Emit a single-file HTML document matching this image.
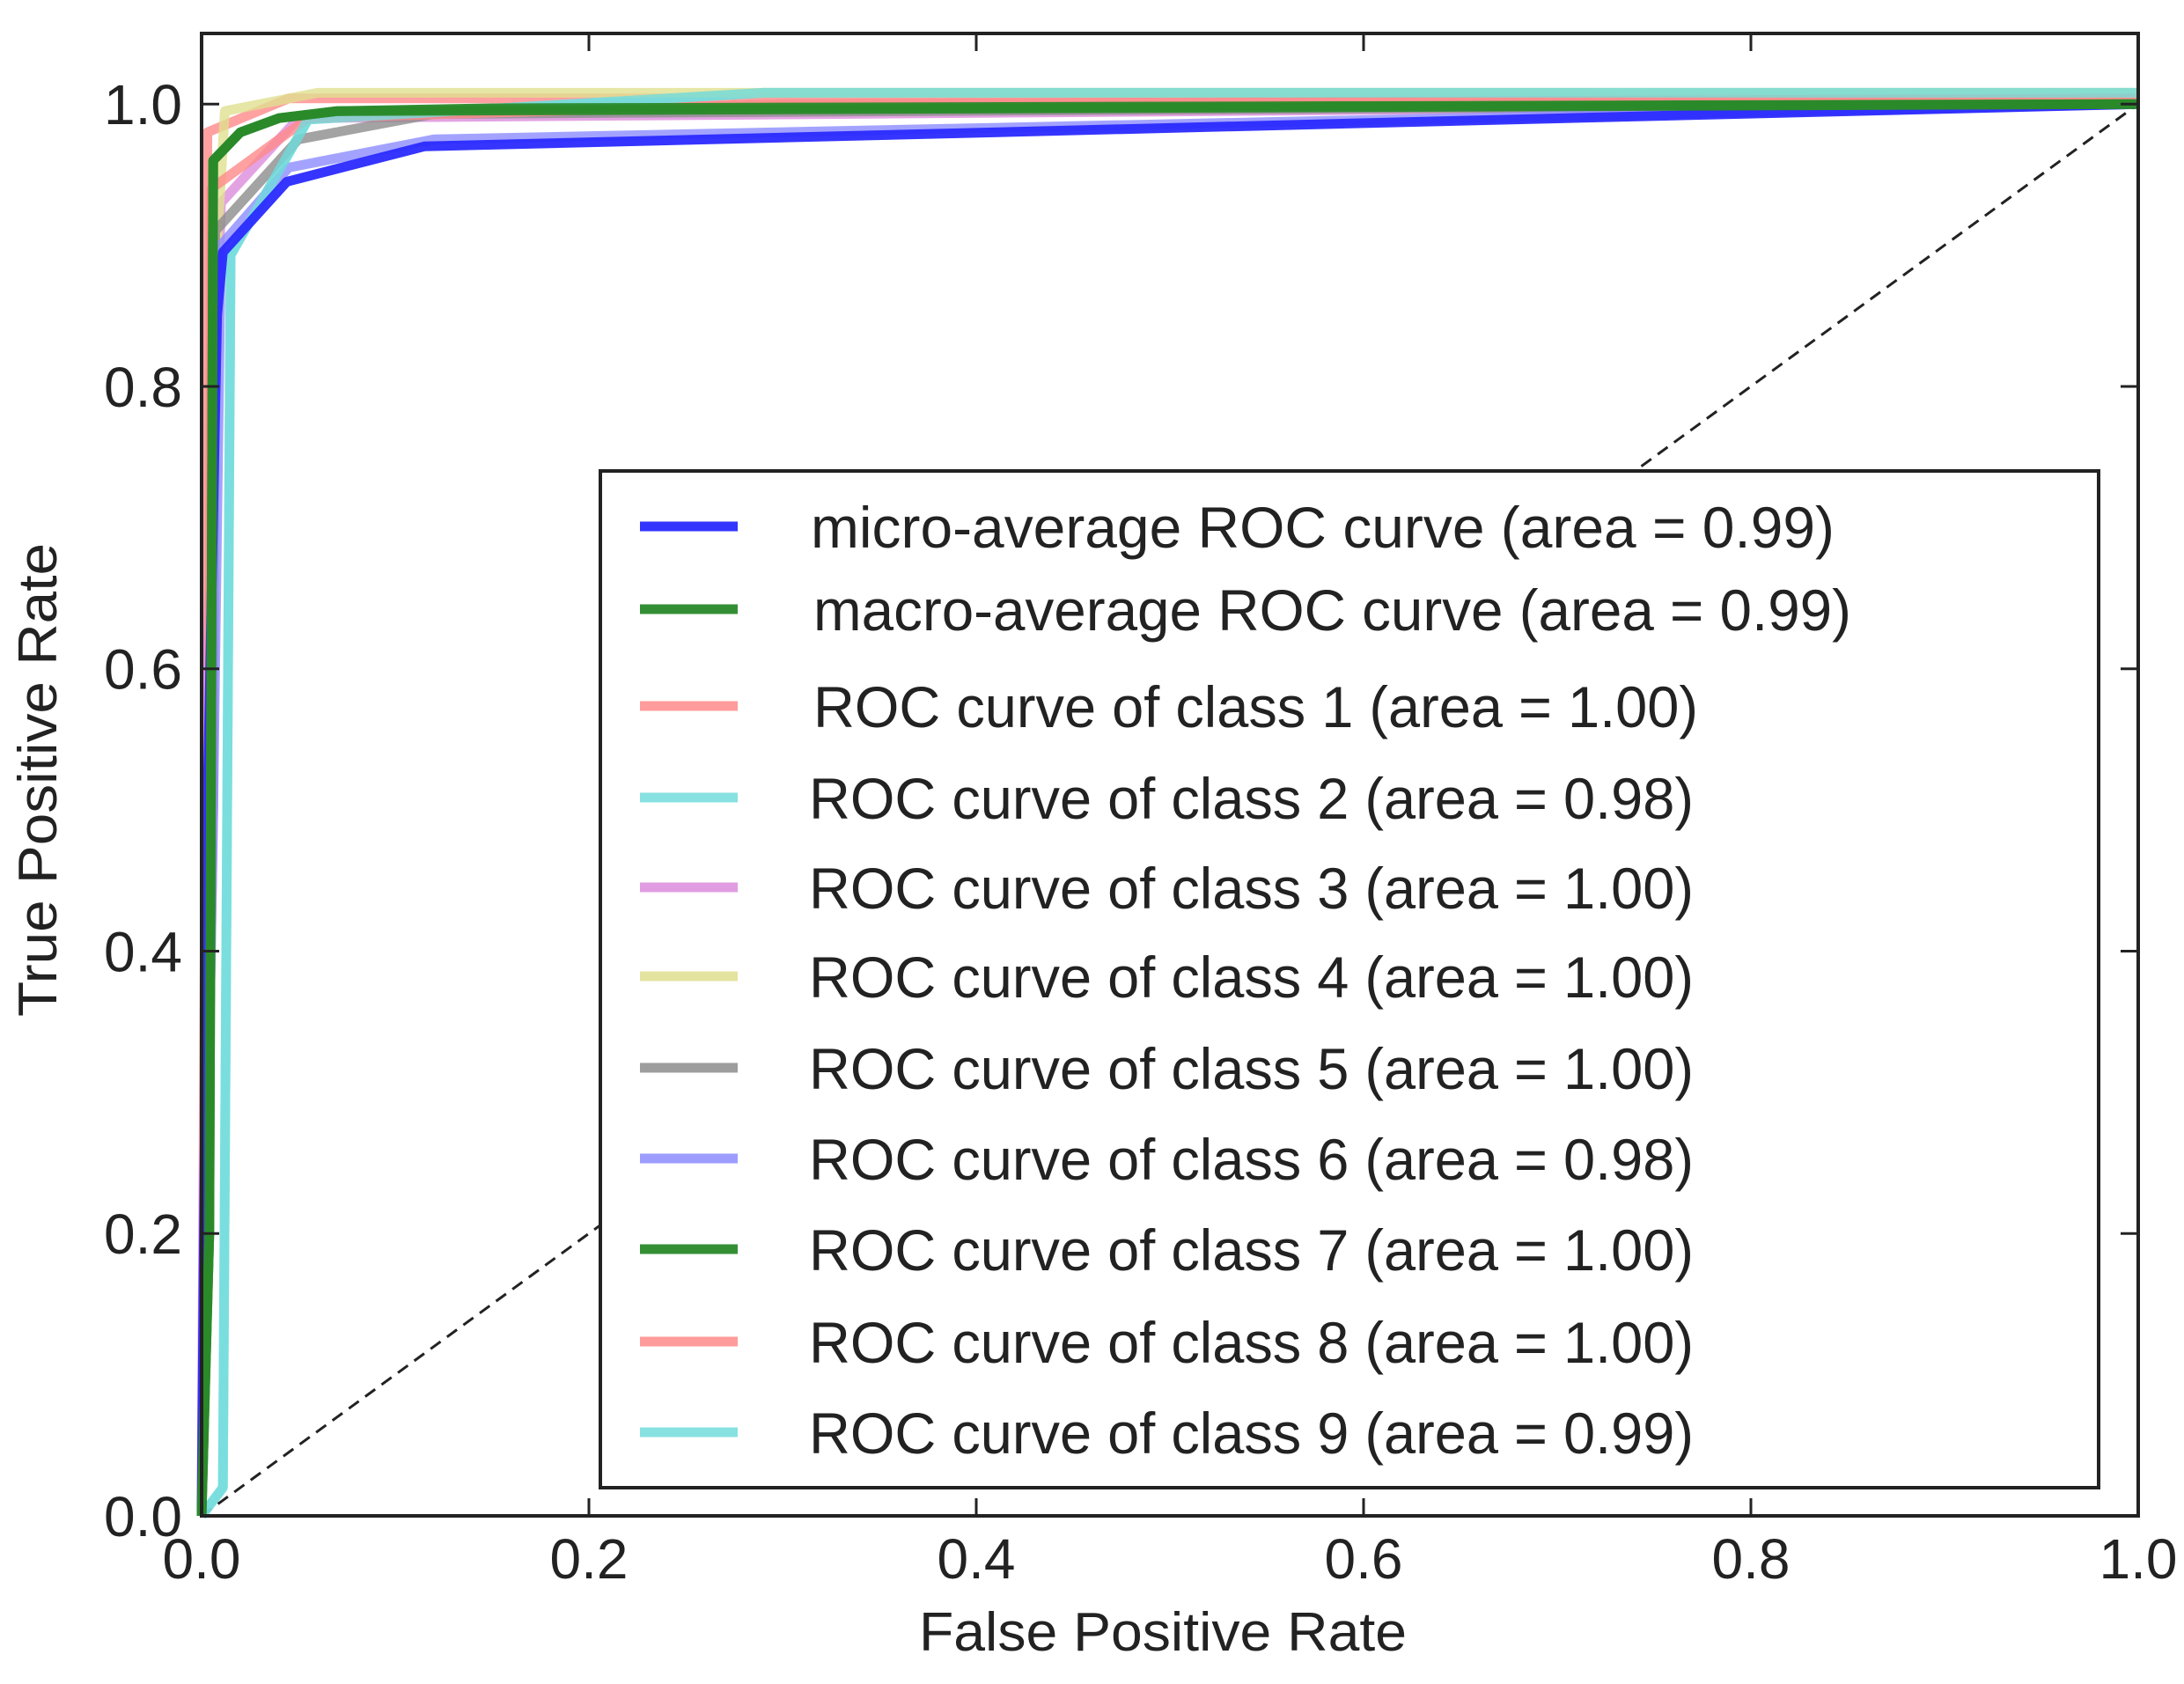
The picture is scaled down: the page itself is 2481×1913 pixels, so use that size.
<!DOCTYPE html>
<html><head><meta charset="utf-8"><style>
html,body{margin:0;padding:0;background:#fff;}
svg{display:block;font-family:"Liberation Sans",sans-serif;}
</style></head><body>
<svg id="chart" width="2481" height="1913" viewBox="0 0 2481 1913">
<rect x="0" y="0" width="2481" height="1913" fill="#fff"/>
<g id="plot"></g>
<g id="axes"></g>
<g id="legend"></g>
</svg>
<script>
const xTicks = [0, 0.2, 0.4, 0.6, 0.8, 1.0];
const yTicks = [0, 0.2, 0.4, 0.6, 0.8, 1.0];
const xTickLabels = ["0.0", "0.2", "0.4", "0.6", "0.8", "1.0"];
const yTickLabels = ["0.0", "0.2", "0.4", "0.6", "0.8", "1.0"];
const seriesNames = ["micro-average ROC curve (area = 0.99)","macro-average ROC curve (area = 0.99)","ROC curve of class 1 (area = 1.00)","ROC curve of class 2 (area = 0.98)","ROC curve of class 3 (area = 1.00)","ROC curve of class 4 (area = 1.00)","ROC curve of class 5 (area = 1.00)","ROC curve of class 6 (area = 0.98)","ROC curve of class 7 (area = 1.00)","ROC curve of class 8 (area = 1.00)","ROC curve of class 9 (area = 0.99)"];
const seriesColors = ["#2a2aff","#2a8a2a","#ff8a8a","#74dcdc","#dc8cdc","#e0e090","#8c8c8c","#8c8cff","#2a8a2a","#ff8a8a","#74dcdc"];
const fprMicro = [0, 0.003, 0.008, 0.011, 0.044, 0.115, 1];
const tprMicro = [0, 0.5, 0.85, 0.895, 0.945, 0.97, 1.0];
const fprMacro = [0, 0.004, 0.006, 0.02, 0.04, 0.07, 0.15, 1];
const tprMacro = [0, 0.2, 0.96, 0.98, 0.99, 0.995, 0.997, 1.0];
const fprC1 = [0, 0.002, 0.003, 0.045, 0.3, 1];
const tprC1 = [0, 0.5, 0.98, 1.004, 1.004, 1.004];
const fprC2 = [0, 0.011, 0.015, 0.055, 0.29, 1];
const tprC2 = [0, 0.02, 0.893, 0.989, 1.008, 1.008];
const fprC3 = [0, 0.003, 0.01, 0.05, 1];
const tprC3 = [0, 0.6, 0.93, 0.99, 1.0];
const fprC4 = [0, 0.008, 0.012, 0.06, 1];
const tprC4 = [0, 0.9, 0.995, 1.008, 1.008];
const fprC5 = [0, 0.006, 0.007, 0.05, 0.12, 1];
const tprC5 = [0, 0.5, 0.91, 0.975, 0.993, 1.0];
const fprC6 = [0, 0.006, 0.01, 0.045, 0.12, 1];
const tprC6 = [0, 0.5, 0.9, 0.955, 0.975, 1.0];
const fprC7 = [0, 0.004, 0.006, 0.02, 0.04, 0.07, 1];
const tprC7 = [0, 0.2, 0.96, 0.98, 0.99, 0.995, 1.0];
const fprC8 = [0, 0.004, 0.005, 0.055, 0.3, 1];
const tprC8 = [0, 0.5, 0.94, 0.99, 1.0, 1.004];
const fprC9 = [0, 0.011, 0.015, 0.055, 0.29, 1];
const tprC9 = [0, 0.02, 0.893, 0.989, 1.008, 1.008];

const NS = "http://www.w3.org/2000/svg";
const L = 229, R = 2429, T = 38, B = 1722;
const sx = v => L + v * (R - L);
const sy = v => B - v / 1.05 * (B - T);
function mk(tag, attrs, parent){ const e = document.createElementNS(NS, tag); for (const k in attrs) e.setAttribute(k, attrs[k]); parent.appendChild(e); return e; }
const plot = document.getElementById('plot'), axes = document.getElementById('axes'), legend = document.getElementById('legend');

const dg = mk('line', {x1: sx(0), y1: sy(0), x2: sx(1), y2: sy(1), stroke: '#222', 'stroke-width': 3, 'stroke-dasharray': '14 9'}, plot);



const xs = [fprMicro,fprMacro,fprC1,fprC2,fprC3,fprC4,fprC5,fprC6,fprC7,fprC8,fprC9];
const ys = [tprMicro,tprMacro,tprC1,tprC2,tprC3,tprC4,tprC5,tprC6,tprC7,tprC8,tprC9];
const drawOrder = [2,3,4,5,6,7,9,10,0,8,1];
drawOrder.forEach(i => {
  const pts = xs[i].map((x, j) => sx(x).toFixed(1) + ',' + sy(ys[i][j]).toFixed(1)).join(' ');
  const op = (i === 0 || i === 1 || i === 8) ? 0.95 : 0.8;
  const p = mk('polyline', {points: pts, fill: 'none', stroke: seriesColors[i], 'stroke-width': 11, 'stroke-linejoin': 'round', opacity: op}, plot);
  
  
});

const frame = mk('rect', {x: L, y: T, width: R - L, height: B - T, fill: 'none', stroke: '#222', 'stroke-width': 4}, axes);



xTicks.forEach((v, i) => {
  mk('line', {x1: sx(v), y1: B, x2: sx(v), y2: B - 20, stroke: '#222', 'stroke-width': 3}, axes);
  mk('line', {x1: sx(v), y1: T, x2: sx(v), y2: T + 20, stroke: '#222', 'stroke-width': 3}, axes);
  const t = mk('text', {x: sx(v), y: 1793, 'font-size': 64, 'text-anchor': 'middle', fill: '#222'}, axes);
  t.textContent = xTickLabels[i];
  
  
});
yTicks.forEach((v, i) => {
  mk('line', {x1: L, y1: sy(v), x2: L + 20, y2: sy(v), stroke: '#222', 'stroke-width': 3}, axes);
  mk('line', {x1: R, y1: sy(v), x2: R - 20, y2: sy(v), stroke: '#222', 'stroke-width': 3}, axes);
  const t = mk('text', {x: 207, y: sy(v) + 23, 'font-size': 64, 'text-anchor': 'end', fill: '#222'}, axes);
  t.textContent = yTickLabels[i];
  
  
});
const xt = mk('text', {x: 1321, y: 1875, 'font-size': 62, 'text-anchor': 'middle', fill: '#222', textLength: 554, lengthAdjust: 'spacingAndGlyphs'}, axes);
xt.textContent = 'False Positive Rate';


const yt = mk('text', {x: 0, y: 0, 'font-size': 62, 'text-anchor': 'middle', fill: '#222', textLength: 538, lengthAdjust: 'spacingAndGlyphs', transform: 'translate(64,886) rotate(-90)'}, axes);
yt.textContent = 'True Positive Rate';



const lb = mk('rect', {x: 682, y: 535, width: 1702, height: 1155, fill: '#fff', stroke: '#222', 'stroke-width': 4}, legend);


const rowY = [598, 692, 802, 906, 1008, 1109, 1213, 1316, 1419, 1524, 1627];
const textW = [1163, 1179, 1005, 1005, 1005, 1005, 1005, 1005, 1005, 1005, 1005];
const textX = [921, 924, 924, 919, 919, 919, 919, 919, 919, 919, 919];
seriesNames.forEach((n, i) => {
  const g = mk('g', {}, legend);
  
  
  mk('line', {x1: 727, y1: rowY[i], x2: 838, y2: rowY[i], stroke: seriesColors[i], 'stroke-width': 11, opacity: (i === 0 || i === 1 || i === 8) ? 0.95 : 0.85}, g);
  const t = mk('text', {x: textX[i], y: rowY[i] + 24, 'font-size': 66, fill: '#222', textLength: textW[i], lengthAdjust: 'spacingAndGlyphs'}, g);
  t.textContent = n;
});
</script>
</body></html>
